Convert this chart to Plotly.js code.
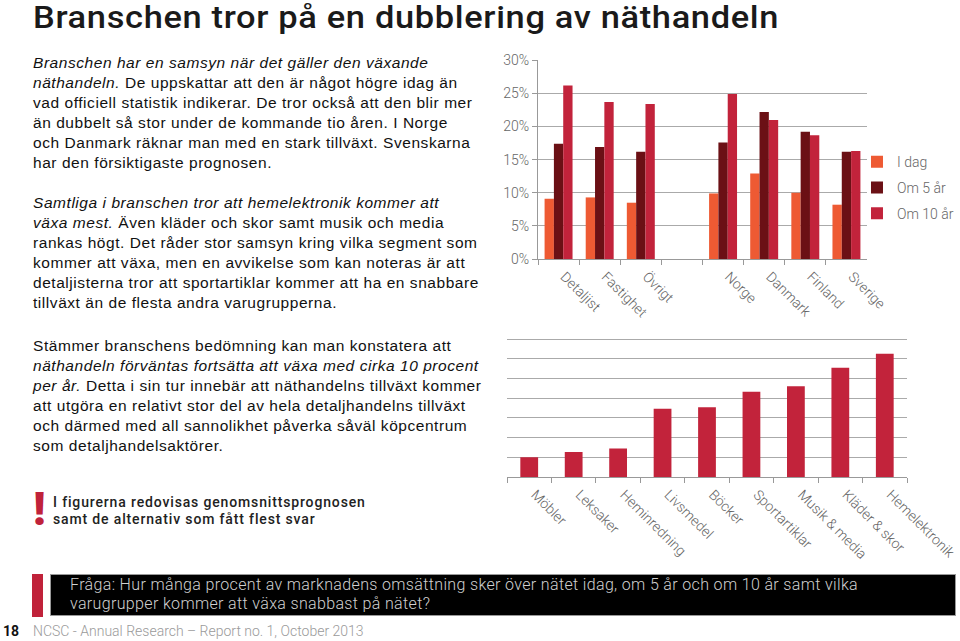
<!DOCTYPE html>
<html>
<head>
<meta charset="utf-8">
<script src="https://cdn.plot.ly/plotly-3.0.1.min.js"></script>
<style>
  html, body { margin: 0; padding: 0; background: #fff; }
  #page { position: relative; width: 960px; height: 641px; overflow: hidden; }
  #plot { position: absolute; left: 0; top: 0; width: 960px; height: 641px; }
  .txt { position: absolute; white-space: nowrap; pointer-events: none; }
  .body { font-family: "Liberation Sans", Arial, sans-serif; font-size: 15.5px; line-height: 20px; letter-spacing: 0.55px; color: #111; }
  #title { left: 33px; top: 1px; font-family: "Roboto", sans-serif; font-weight: 500; font-size: 31px; line-height: 34px; letter-spacing: 0.6px; color: #1a1a1a; transform: scaleX(1.11); transform-origin: 0 0; }
  #note { left: 53px; top: 494px; font-family: "Roboto", sans-serif; font-weight: 500; font-size: 14px; line-height: 17px; color: #222; letter-spacing: 0.85px; }
  #bang { left: 33px; top: 484px; font-family: "Roboto", sans-serif; font-weight: 900; font-size: 46px; color: #c0223a; line-height: 50px; }
  #redbar { position: absolute; left: 32px; top: 574px; width: 11px; height: 43px; background: #c0223a; }
  #blackbox { position: absolute; left: 50px; top: 574px; width: 906px; height: 42px; background: #000; border: 1px solid #999; box-sizing: border-box; }
  #question { left: 70px; top: 575px; font-family: "Roboto", sans-serif; font-weight: 300; font-size: 16px; line-height: 19px; letter-spacing: 0.35px; color: #d0d0d0; }
  #pnum { left: 3px; top: 623px; font-family: "Roboto", sans-serif; font-weight: 700; font-size: 14px; color: #111; }
  #footer { left: 33px; top: 623px; font-family: "Roboto", sans-serif; font-weight: 300; font-size: 14px; color: #9a9a9a; }
</style>
</head>
<body>
<div id="page">
  <div id="plot"></div>
  <div class="txt" id="title">Branschen tror på en dubblering av näthandeln</div>
  <div class="txt body" style="left:33px; top:53px;"><i>Branschen har en samsyn när det gäller den växande<br>näthandeln.</i> De uppskattar att den är något högre idag än<br>vad officiell statistik indikerar. De tror också att den blir mer<br>än dubbelt så stor under de kommande tio åren. I Norge<br>och Danmark räknar man med en stark tillväxt. Svenskarna<br>har den försiktigaste prognosen.</div>
  <div class="txt body" style="left:33px; top:193px;"><i>Samtliga i branschen tror att hemelektronik kommer att<br>växa mest.</i> Även kläder och skor samt musik och media<br>rankas högt. Det råder stor samsyn kring vilka segment som<br>kommer att växa, men en avvikelse som kan noteras är att<br>detaljisterna tror att sportartiklar kommer att ha en snabbare<br>tillväxt än de flesta andra varugrupperna.</div>
  <div class="txt body" style="left:33px; top:336px;">Stämmer branschens bedömning kan man konstatera att<br><i>näthandeln förväntas fortsätta att växa med cirka 10 procent<br>per år.</i> Detta i sin tur innebär att näthandelns tillväxt kommer<br>att utgöra en relativt stor del av hela detaljhandelns tillväxt<br>och därmed med all sannolikhet påverka såväl köpcentrum<br>som detaljhandelsaktörer.</div>
  <div class="txt" id="bang">!</div>
  <div class="txt" id="note">I figurerna redovisas genomsnittsprognosen<br>samt de alternativ som fått flest svar</div>
  <div id="redbar"></div>
  <div id="blackbox"></div>
  <div class="txt" id="question">Fråga: Hur många procent av marknadens omsättning sker över nätet idag, om 5 år och om 10 år samt vilka<br>varugrupper kommer att växa snabbast på nätet?</div>
  <div class="txt" id="pnum">18</div>
  <div class="txt" id="footer">NCSC - Annual Research – Report no. 1, October 2013</div>
</div>
<script>
// Chart 1: share of online sales (%), by respondent group / country
const regionCats = ['Detaljist', 'Fastighet', 'Övrigt', ' ', 'Norge', 'Danmark', 'Finland', 'Sverige'];
const iDag  = [9.1, 9.3, 8.5, null, 9.9, 12.9, 10.0, 8.2];
const om5   = [17.4, 16.9, 16.2, null, 17.6, 22.2, 19.2, 16.2];
const om10  = [26.2, 23.7, 23.4, null, 24.9, 21.0, 18.7, 16.3];
const seriesNames = ['I dag', 'Om 5 år', 'Om 10 år'];
const yTickVals = [0, 5, 10, 15, 20, 25, 30];
const yTickText = ['0%', '5%', '10%', '15%', '20%', '25%', '30%'];

// Chart 2: expected growth by product group (relative scale)
const productCats = ['Möbler', 'Leksaker', 'Heminredning', 'Livsmedel', 'Böcker', 'Sportartiklar', 'Musik & media', 'Kläder & skor', 'Hemelektronik'];
const growthScore = [1.0, 1.27, 1.44, 3.46, 3.54, 4.32, 4.61, 5.54, 6.25];
const growthGrid = [0, 1, 2, 3, 4, 5, 6, 7];

const colors = ['#ee5a33', '#6b1015', '#c2233b'];
const labelFont = { family: 'Roboto, sans-serif', size: 14, color: '#666', weight: 300 };

const traces = [
  { type: 'bar', x: regionCats, y: iDag, name: seriesNames[0], marker: { color: colors[0] }, xaxis: 'x', yaxis: 'y', legendgroup: 'a' },
  { type: 'bar', x: regionCats, y: om5, name: seriesNames[1], marker: { color: colors[1] }, xaxis: 'x', yaxis: 'y', legendgroup: 'b' },
  { type: 'bar', x: regionCats, y: om10, name: seriesNames[2], marker: { color: colors[2] }, xaxis: 'x', yaxis: 'y', legendgroup: 'c' },
  { type: 'bar', x: productCats, y: growthScore, name: 'Tillväxt', marker: { color: colors[2] }, width: 0.4, xaxis: 'x2', yaxis: 'y2', showlegend: false }
];

const layout = {
  width: 960, height: 641,
  margin: { l: 0, r: 0, t: 0, b: 0 },
  paper_bgcolor: 'rgba(0,0,0,0)', plot_bgcolor: 'rgba(0,0,0,0)',
  barmode: 'group', bargap: 0.32, bargroupgap: 0,
  hovermode: false,
  showlegend: true,
  legend: { x: 0.8927, y: 0.772, xanchor: 'left', yanchor: 'top', font: labelFont, itemwidth: 30, tracegroupgap: 4.5, bgcolor: 'rgba(0,0,0,0)' },
  xaxis: {
    domain: [538 / 960, 867 / 960], anchor: 'y', type: 'category',
    tickson: 'boundaries', ticks: 'outside', ticklen: 5, tickcolor: '#999',
    showline: true, linecolor: '#999', linewidth: 1, showgrid: false,
    tickangle: 45, tickfont: labelFont, ticklabelshift: 6, ticklabelstandoff: 3
  },
  yaxis: {
    domain: [1 - 259 / 641, 1 - 60 / 641], anchor: 'x',
    range: [0, 30.05], tickvals: yTickVals, ticktext: yTickText,
    ticks: 'outside', ticklen: 5, tickcolor: '#999',
    showline: true, linecolor: '#999', linewidth: 1,
    showgrid: true, gridcolor: '#aaa', gridwidth: 1, zeroline: false,
    tickfont: labelFont
  },
  xaxis2: {
    domain: [507 / 960, 907 / 960], anchor: 'y2', type: 'category',
    tickson: 'boundaries', ticks: 'outside', ticklen: 5, tickcolor: '#999',
    showline: true, linecolor: '#999', linewidth: 1, showgrid: false,
    tickangle: 45, tickfont: labelFont, ticklabelshift: 6, ticklabelstandoff: 3
  },
  yaxis2: {
    domain: [1 - 477 / 641, 1 - 329.2 / 641], anchor: 'x2',
    range: [0, 7.5], tickvals: growthGrid, showticklabels: false, ticks: '',
    showline: false, showgrid: true, gridcolor: '#aaa', gridwidth: 1, zeroline: false
  }
};

Plotly.newPlot('plot', traces, layout, { staticPlot: true, displayModeBar: false });
</script>
</body>
</html>
